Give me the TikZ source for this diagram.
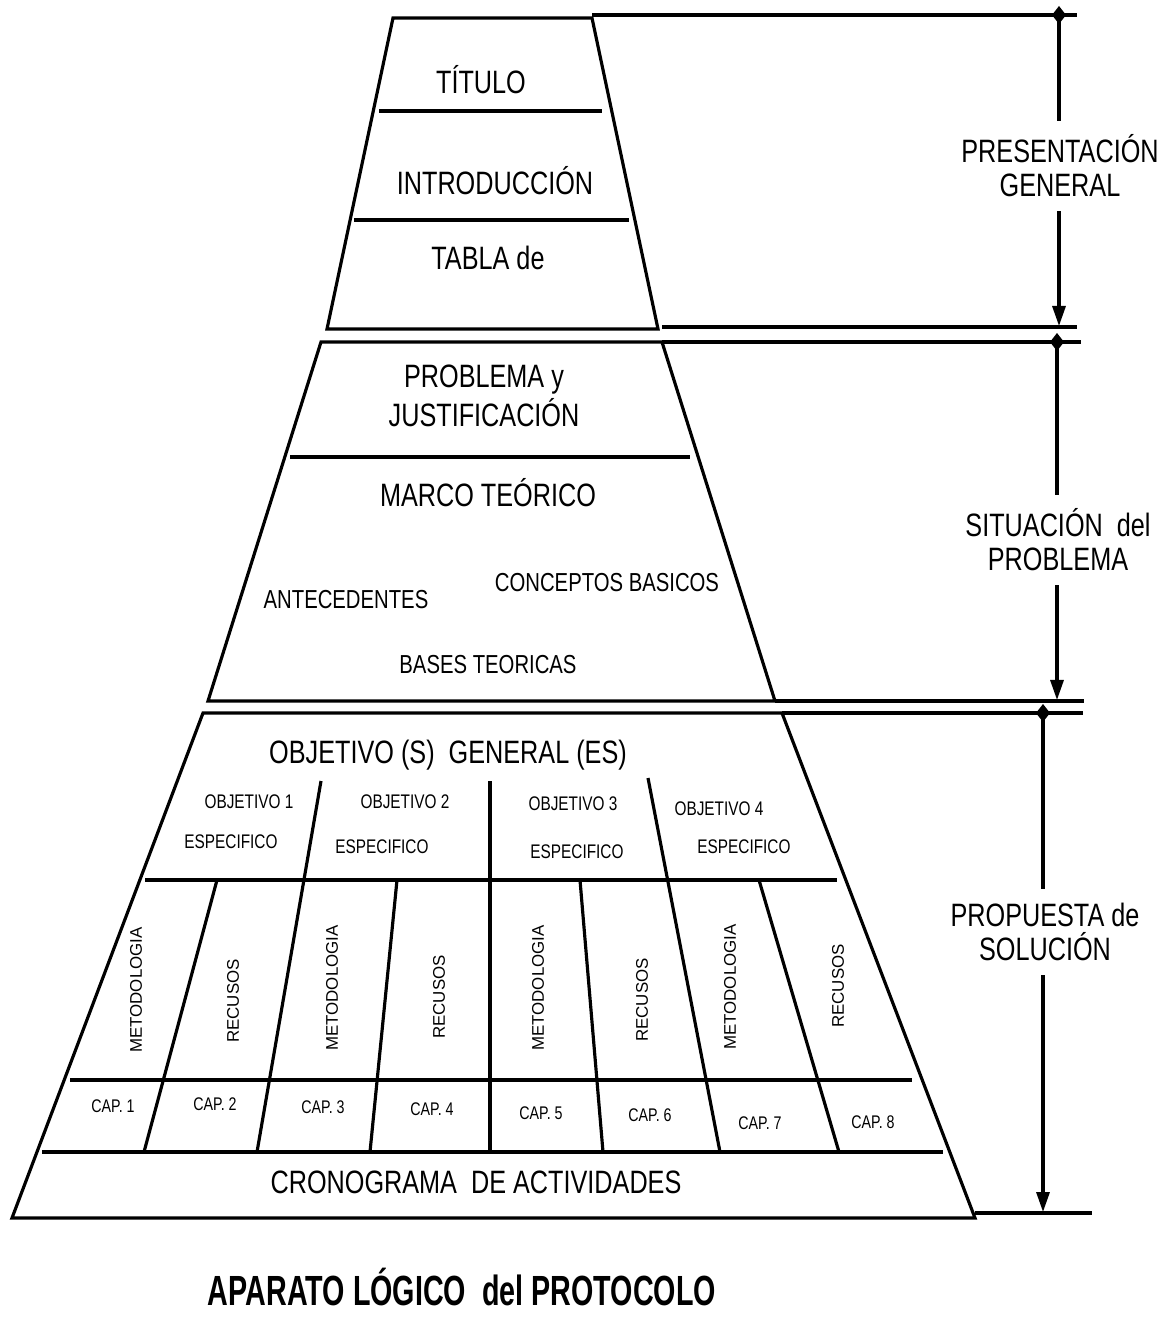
\documentclass[tikz,border=0pt]{standalone}
\usepackage{fontspec}
\setmainfont{Liberation Sans}[FakeStretch=0.78]
\newfontfamily\widesans{Liberation Sans}
\newfontfamily\titlesans{Liberation Sans}[FakeStretch=0.68]
\usetikzlibrary{arrows.meta}

\tikzset{
  edge/.style={line width=0.9pt},
  sep/.style={line width=1.2pt},
  big/.style={font=\fontsize{9.2}{9.6}\selectfont, inner sep=1pt, align=center},
  mid/.style={font=\fontsize{7.4}{9}\selectfont, inner sep=1pt},
  obj/.style={font=\fontsize{5.6}{7}\selectfont, inner sep=1pt},
  chap/.style={font=\fontsize{5.2}{6}\selectfont, inner sep=1pt},
  vert/.style={font=\widesans\fontsize{4.8}{6}\selectfont, rotate=90, inner sep=1pt},
  dim/.style={line width=0.9pt, {Diamond[length=0.18cm,width=0.14cm]}-{Triangle[length=0.2cm,width=0.13cm]}},
  side/.style={big, fill=white, inner sep=4pt}
}

\begin{document}
\begin{tikzpicture}[x=0.01cm,y=-0.01cm]
 \useasboundingbox (0,0) rectangle (1164,1330);

 % bloque 1
 \draw [edge] (393,18) -- (592,18) -- (658,329) -- (327,329) -- cycle;
 \draw [sep] (379,111) -- (602,111);
 \draw [sep] (354,220) -- (629,220);
 \node [big] (titulo) at (481,80) {TÍTULO};
 \node [big] (intro) at (495,181) {INTRODUCCIÓN};
 \node [big] (tabla) at (488,258) {TABLA de};

 % bloque 2
 \draw [edge] (321,342) -- (662,342) -- (775,701) -- (208,701) -- cycle;
 \draw [sep] (290,457) -- (690,457);
 \node [big] (probl) at (484,396) {PROBLEMA y\\JUSTIFICACIÓN};
 \node [big] (marco) at (488,493) {MARCO TEÓRICO};
 \node [mid] (antec) at (346,600) {ANTECEDENTES};
 \node [mid] (conc) at (607,583) {CONCEPTOS BASICOS};
 \node [mid] (bases) at (488,665) {BASES TEORICAS};

 % bloque 3
 \draw [edge] (203,713) -- (782,713) -- (975,1218) -- (12,1218) -- cycle;
 \draw [sep] (145,880) -- (837,880);
 \draw [sep] (70,1080) -- (912,1080);
 \draw [sep] (42,1152) -- (943,1152);
 \draw [edge] (321,781) -- (257,1152);
 \draw [edge] (490,781) -- (490,1152);
 \draw [edge] (648,778) -- (720,1152);
 \draw [edge] (217,880) -- (144,1152);
 \draw [edge] (397,880) -- (370,1152);
 \draw [edge] (580,880) -- (603,1152);
 \draw [edge] (759,880) -- (839,1152);
 \node [big] (gral) at (448,755) {OBJETIVO (S) \ GENERAL (ES)};
 \node [obj] (obj1) at (249,802) {OBJETIVO 1};
 \node [obj] (esp1) at (231,842) {ESPECIFICO};
 \node [obj] (obj2) at (405,802) {OBJETIVO 2};
 \node [obj] (esp2) at (382,847) {ESPECIFICO};
 \node [obj] (obj3) at (573,804) {OBJETIVO 3};
 \node [obj] (esp3) at (577,852) {ESPECIFICO};
 \node [obj] (obj4) at (719,809) {OBJETIVO 4};
 \node [obj] (esp4) at (744,847) {ESPECIFICO};
 \node [vert] (met1) at (136,990) {METODOLOGIA};
 \node [vert] (rec1) at (233,1001) {RECUSOS};
 \node [vert] (met2) at (332,988) {METODOLOGIA};
 \node [vert] (rec2) at (439,997) {RECUSOS};
 \node [vert] (met3) at (538,988) {METODOLOGIA};
 \node [vert] (rec3) at (642,1000) {RECUSOS};
 \node [vert] (met4) at (730,987) {METODOLOGIA};
 \node [vert] (rec4) at (838,986) {RECUSOS};
 \node [chap] (cap1) at (113,1106) {CAP. 1};
 \node [chap] (cap2) at (215,1104) {CAP. 2};
 \node [chap] (cap3) at (323,1107) {CAP. 3};
 \node [chap] (cap4) at (432,1109) {CAP. 4};
 \node [chap] (cap5) at (541,1113) {CAP. 5};
 \node [chap] (cap6) at (650,1115) {CAP. 6};
 \node [chap] (cap7) at (760,1123) {CAP. 7};
 \node [chap] (cap8) at (873,1122) {CAP. 8};
 \node [big] (crono) at (476,1182) {CRONOGRAMA \ DE ACTIVIDADES};

 % cotas a la derecha
 \draw [edge] (592,15) -- (1077,15);
 \draw [edge] (662,327) -- (1077,327);
 \draw [edge] (662,342) -- (1081,342);
 \draw [edge] (775,701) -- (1084,701);
 \draw [edge] (782,713) -- (1083,713);
 \draw [edge] (975,1213) -- (1092,1213);
 \coordinate (p1) at (1059,6);
 \coordinate (p2) at (1059,326);
 \coordinate (s1) at (1057,333);
 \coordinate (s2) at (1057,700);
 \coordinate (q1) at (1043,704);
 \coordinate (q2) at (1043,1212);
 \draw [dim] (p1) -- (p2);
 \draw [dim] (s1) -- (s2);
 \draw [dim] (q1) -- (q2);
 \node [side] (pres) at (1060,166) {PRESENTACIÓN\\GENERAL};
 \node [side] (sit) at (1058,540) {SITUACIÓN \ del\\PROBLEMA};
 \node [side] (prop) at (1045,932) {PROPUESTA de\\SOLUCIÓN};

 \node [font=\titlesans\bfseries\fontsize{12}{14}\selectfont] (aparato) at (462,1287) {APARATO LÓGICO \ del PROTOCOLO};
\end{tikzpicture}
\end{document}
